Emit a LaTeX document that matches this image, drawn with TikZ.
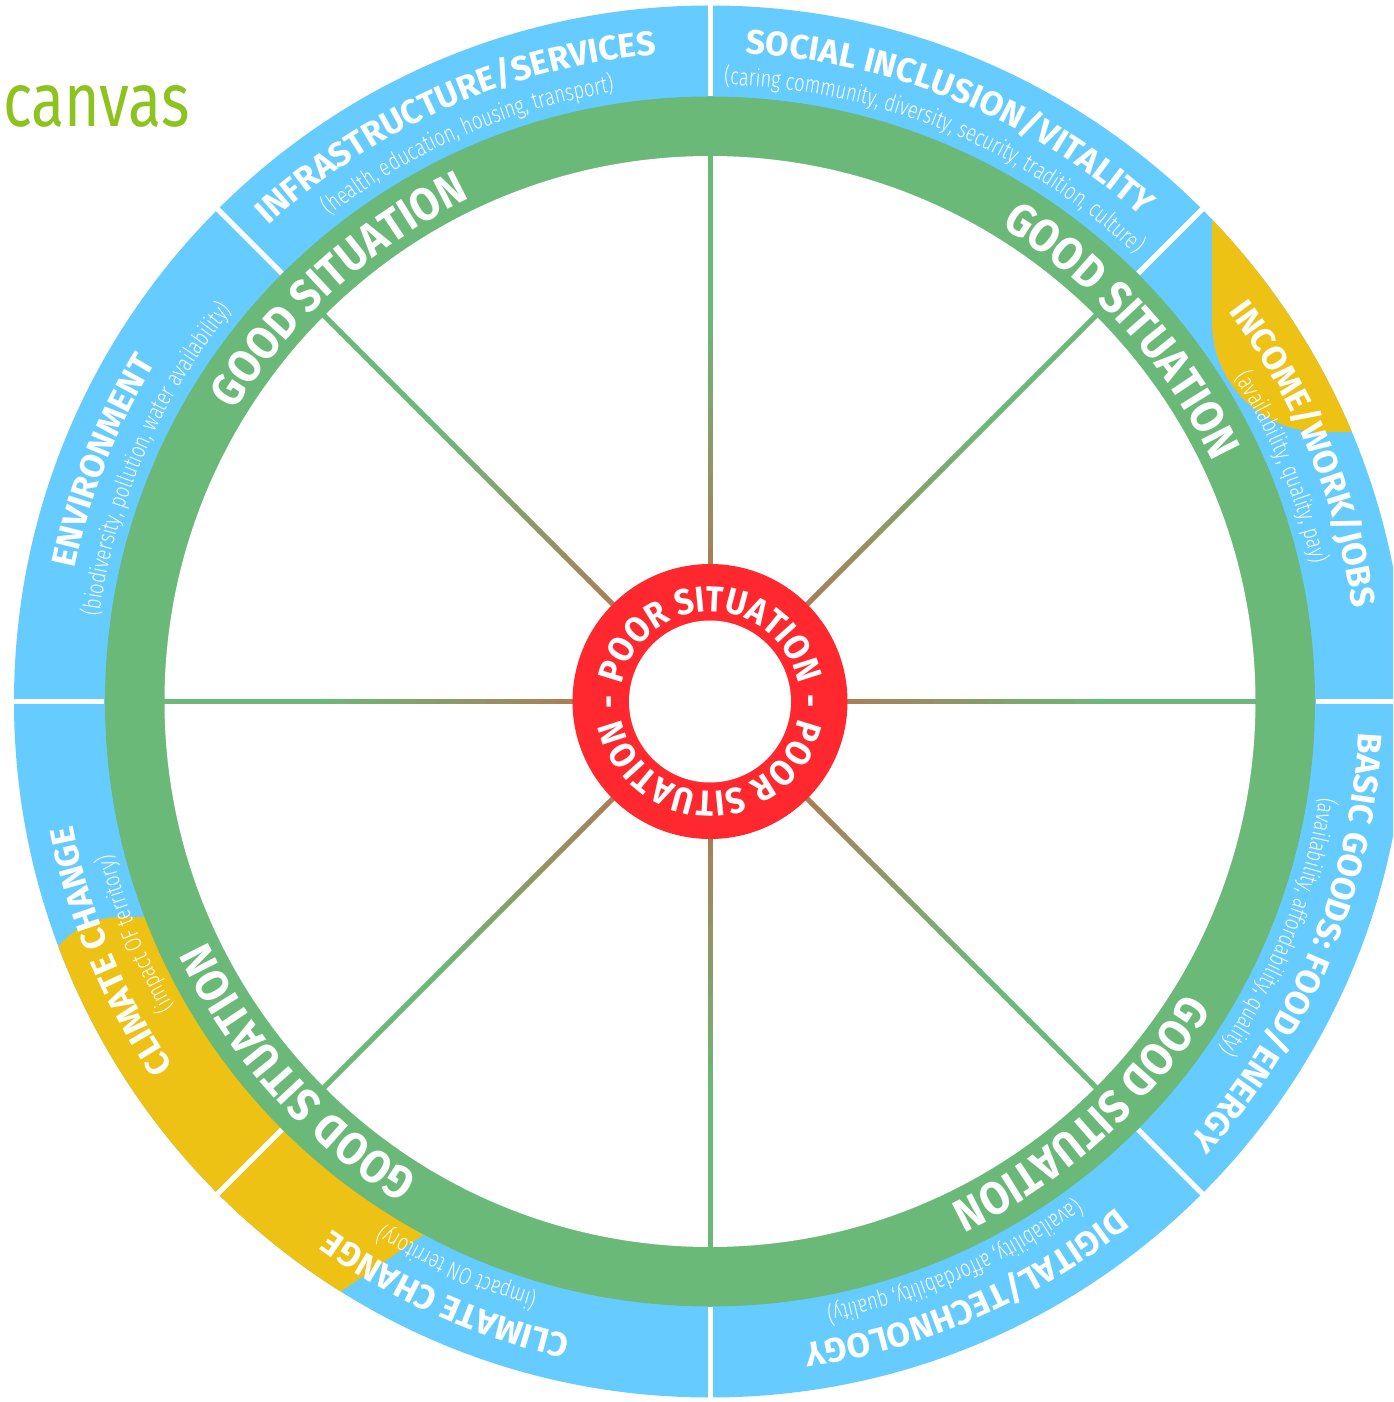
\documentclass[tikz,border=0pt]{standalone}
\usepackage{fontspec}
\setmainfont{Fira Sans}
\newfontfamily\lightf{Fira Sans Light}[FakeStretch=0.76]
\newfontfamily\condf{Fira Sans}[FakeStretch=0.9]
\newfontfamily\titlef{Fira Sans}[FakeStretch=0.8]
\usetikzlibrary{decorations.text}
\definecolor{ringblue}{RGB}{102,204,255}
\definecolor{ringgreen}{RGB}{106,185,120}
\definecolor{hiyellow}{RGB}{237,194,20}
\definecolor{poorred}{RGB}{255,40,46}
\definecolor{spokebrown}{RGB}{168,128,88}
\definecolor{titlegreen}{RGB}{141,194,31}
\newcommand\ringtext[5]{%
  \path[decorate,decoration={text along path,text align=center,
    text={|#4|#5}}] ({#2+#3}:#1) arc[start angle={#2+#3},end angle={#2-#3},radius=#1];}
\newcommand\ttlfmt{\fontsize{34}{34}\selectfont\bfseries\color{white}}
\newcommand\subfmt{\lightf\fontsize{24}{24}\selectfont\color{white}}
\newcommand\goodfmt{\condf\fontsize{46}{46}\selectfont\bfseries\color{white}}
\newcommand\poorfmt{\condf\fontsize{36}{36}\selectfont\bfseries\color{white}}
\tikzset{
  separator/.style={white,line width=5},
  spokeseg/.style={line width=5},
}
\begin{document}
\begin{tikzpicture}[x=1pt,y=1pt]
\useasboundingbox (-710,-700.5) rectangle (683,701.5);
\clip (-710,-700.5) rectangle (683,701.5);
% outer blue ring
\fill[ringblue] (0,0) circle[radius=696];
% yellow highlights
\begin{scope}
  \clip (0,0) circle[radius=696];
  \fill[hiyellow,rounded corners=110] (502,651.5) rectangle (790,269.5);
  \fill[hiyellow,rounded corners=81] (-670,-215.5) -- (-10,-215.5) -- (-10,-343.5) -- (-670,-796.5) -- cycle;
\end{scope}
% green ring
\fill[ringgreen] (0,0) circle[radius=605];
\fill[white] (0,0) circle[radius=545.5];
% spokes
\foreach \a in {0,45,...,315}{
  \foreach \i in {0,...,23}{
    \pgfmathsetmacro\ra{136+\i*17.5}
    \pgfmathsetmacro\rb{\ra+18.5}
    \pgfmathsetmacro\p{min(100,\i*100/14)}
    \draw[spokeseg,color=ringgreen!\p!spokebrown] (\a:\ra) -- (\a:\rb);
  }
}
% red ring
\fill[poorred] (0,0) circle[radius=137.5];
\fill[white] (0,0) circle[radius=81];
% separators
\foreach \a in {0,45,...,315}{
  \draw[separator] (\a:605.5) -- (\a:705);
}
% category titles
\ringtext{649}{113.8}{45}{\ttlfmt}{INFRASTRUCTURE/SERVICES}
\ringtext{617}{113.5}{60}{\subfmt}{(health, education, housing, transport)}
\ringtext{649}{67.6}{45}{\ttlfmt}{SOCIAL INCLUSION/VITALITY}
\ringtext{617}{67.6}{60}{\subfmt}{(caring community, diversity, security, tradition, culture)}
\ringtext{649}{22.6}{45}{\ttlfmt}{INCOME/WORK/JOBS}
\ringtext{617}{22.3}{60}{\subfmt}{(availability, quality, pay)}
\ringtext{649}{-22.6}{45}{\ttlfmt}{BASIC GOODS: FOOD/ENERGY}
\ringtext{617}{-21.6}{60}{\subfmt}{(availability, affordability, quality)}
\ringtext{649}{-66.5}{45}{\ttlfmt}{DIGITAL/TECHNOLOGY}
\ringtext{617}{-66.4}{60}{\subfmt}{(availability, affordability, quality)}
\ringtext{649}{-114}{45}{\ttlfmt}{CLIMATE CHANGE}
\ringtext{617}{-114.1}{60}{\subfmt}{(impact ON territory)}
\ringtext{649}{202.6}{45}{\ttlfmt}{CLIMATE CHANGE}
\ringtext{617}{202}{60}{\subfmt}{(impact OF territory)}
\ringtext{649}{158.4}{45}{\ttlfmt}{ENVIRONMENT}
\ringtext{617}{156.4}{60}{\subfmt}{(biodiversity, pollution, water availability)}
% good situation
\foreach \c in {132,42,-48,222}{
  \ringtext{557}{\c}{40}{\goodfmt}{GOOD SITUATION}
}
% poor situation
\ringtext{90}{90}{120}{\poorfmt}{POOR SITUATION}
\ringtext{90}{-90}{120}{\poorfmt}{POOR SITUATION}
\ringtext{90}{180.5}{20}{\poorfmt}{-}
\ringtext{90}{0.5}{20}{\poorfmt}{-}
% title
\node[anchor=base west,inner sep=0pt,text=titlegreen,font=\titlef\fontsize{76}{76}\selectfont] (title) at (-707,574.5) {canvas};
\end{tikzpicture}
\end{document}
